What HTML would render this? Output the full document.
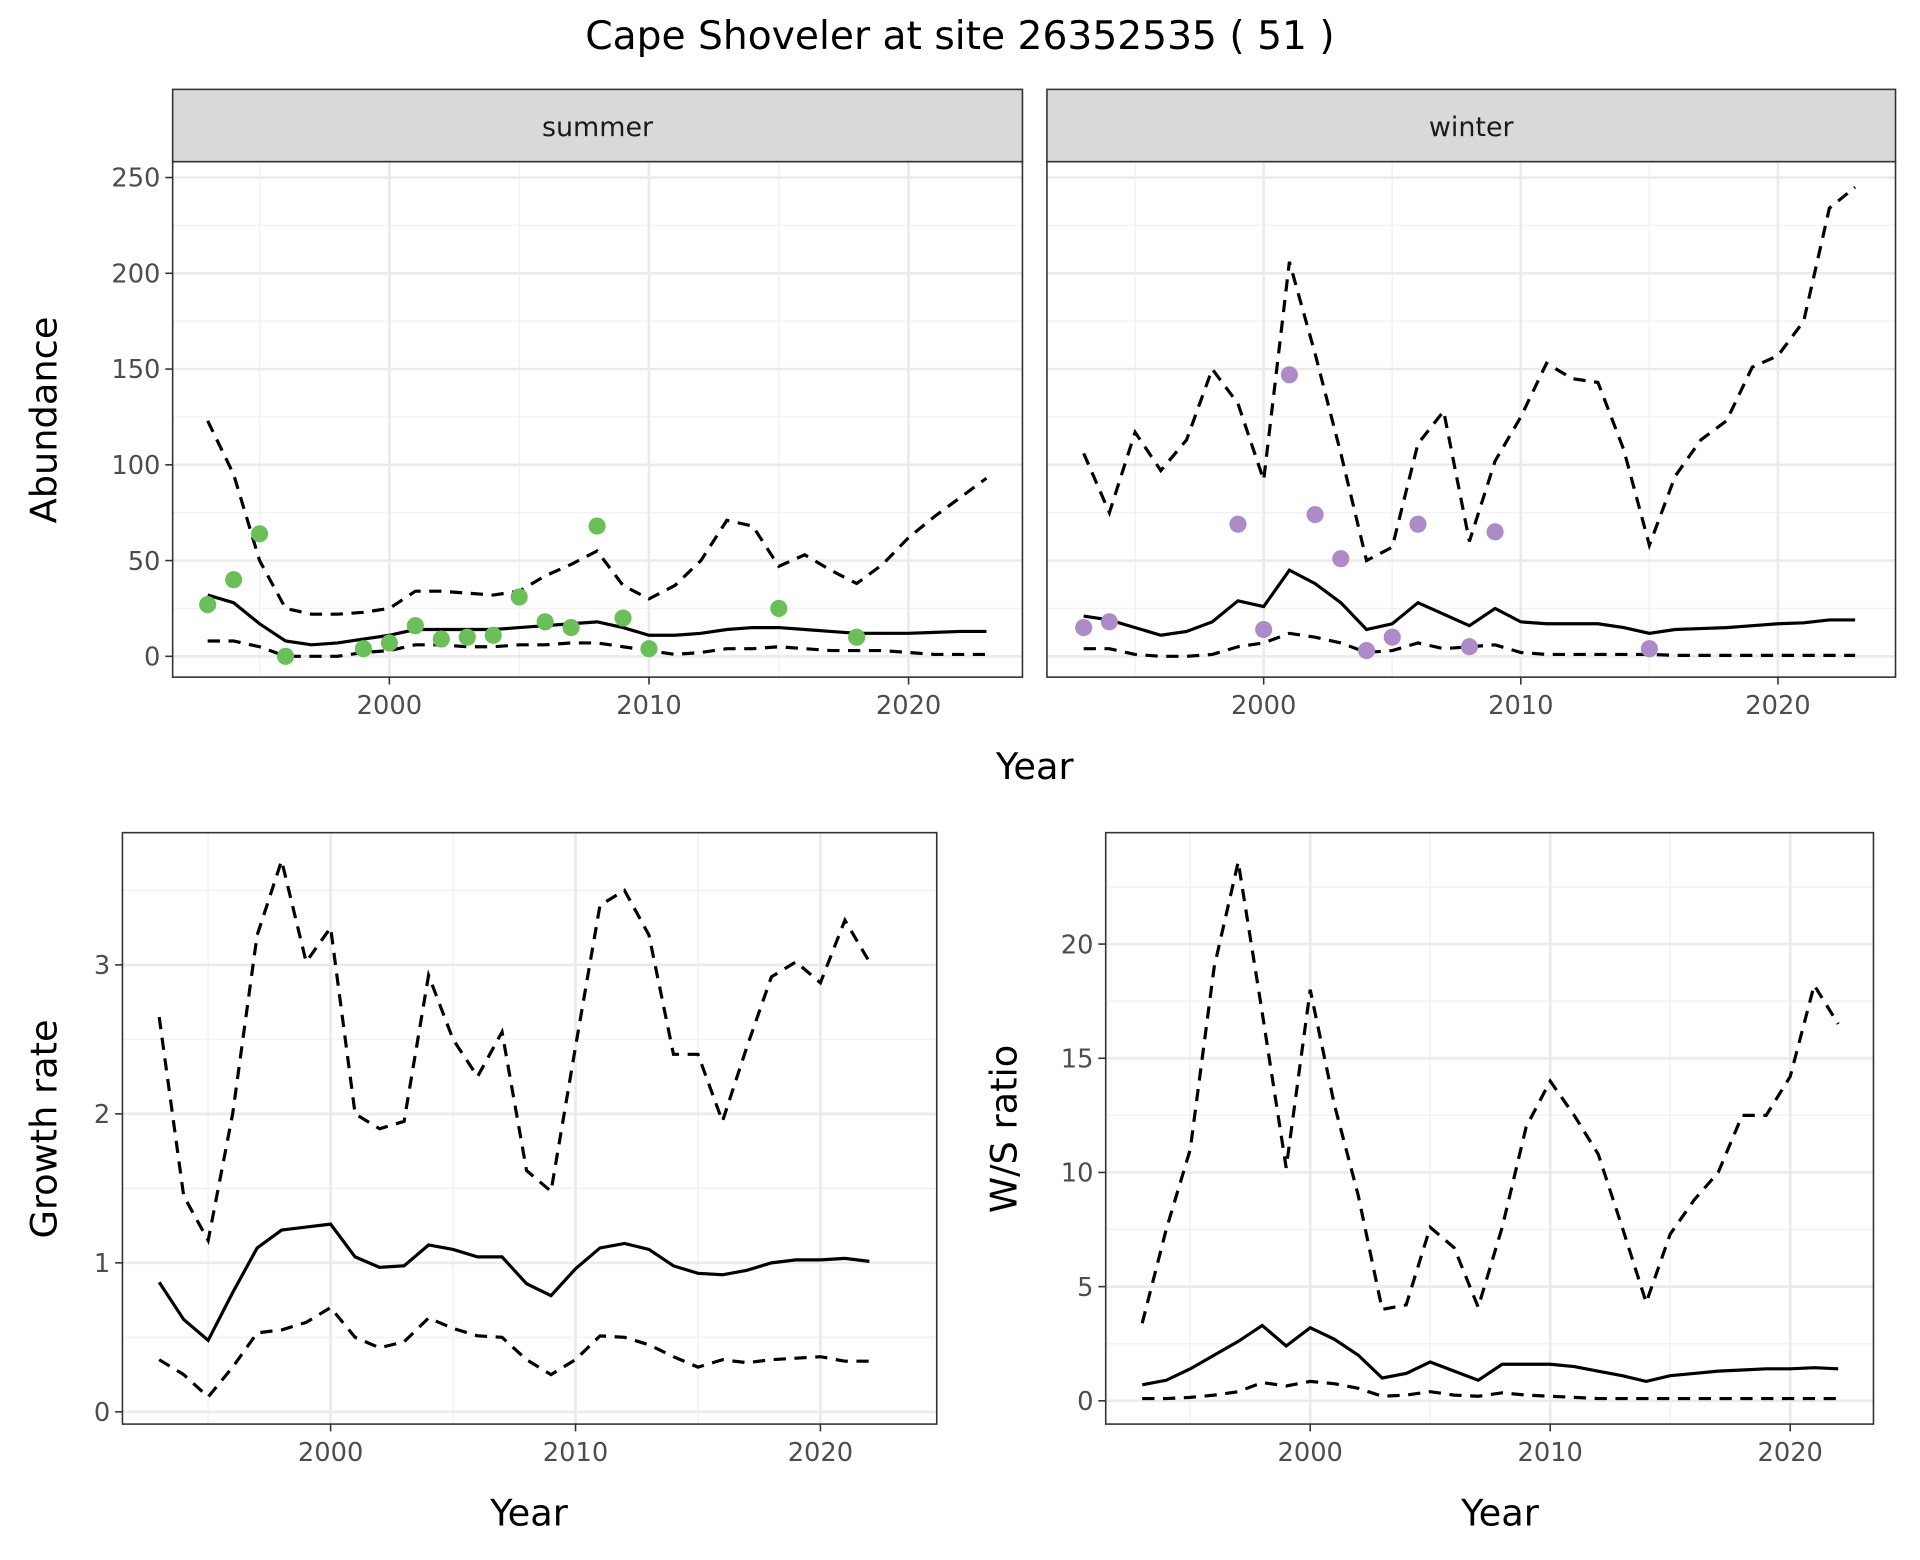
<!DOCTYPE html>
<html><head><meta charset="utf-8">
<style>
html,body{margin:0;padding:0;background:#fff;}
svg{display:block;font-family:"DejaVu Sans","Liberation Sans",sans-serif;}
</style></head>
<body>
<svg id="chart" width="1920" height="1560" viewBox="0 0 1568 1274" xmlns="http://www.w3.org/2000/svg">
<text x="784" y="40" text-anchor="middle" font-size="32" fill="#000">Cape Shoveler at site 26352535 ( 51 )</text>
</svg>
<script>
const years = [1993,1994,1995,1996,1997,1998,1999,2000,2001,2002,2003,2004,2005,2006,2007,2008,2009,2010,2011,2012,2013,2014,2015,2016,2017,2018,2019,2020,2021,2022,2023];
const summerPtYears = [1993,1994,1995,1996,1999,2000,2001,2002,2003,2004,2005,2006,2007,2008,2009,2010,2015,2018];
const summerPtVals = [27,40,64,0,4,7,16,9,10,11,31,18,15,68,20,4,25,10];
const summerMean = [32,28,17,8,6,7,9,11,14,14,14,14,15,16,17,18,15,11,11,12,14,15,15,14,13,12,12,12,12.5,13,13];
const summerUpper = [123,95,50,25,22,22,23,25,34,34,33,32,34,42,48,55,37,30,37,50,71,68,47,53,45,38,48,62,73,83,93];
const summerLower = [8,8,5,0,0,0,2,3,6,6,5,5,6,6,7,7,5,3,1,2,4,4,5,4,3,3,3,2,1,1,1];
const winterPtYears = [1993,1994,1999,2000,2001,2002,2003,2004,2005,2006,2008,2009,2015];
const winterPtVals = [15,18,69,14,147,74,51,3,10,69,5,65,4];
const winterMean = [21,19,15,11,13,18,29,26,45,38,28,14,17,28,22,16,25,18,17,17,17,15,12,14,14.5,15,16,17,17.5,19,19];
const winterUpper = [106,75,117,97,113,150,132,92,206,158,106,50,57,111,128,60,102,125,153,145,143,108,58,94,113,123,151,157,175,234,245];
const winterLower = [4,4,1,0,0,1,5,7,12,10,7,2,3,7,4,5,6,2,1,1,1,1,1,0.5,0.5,0.5,0.5,0.5,0.5,0.5,0.5];
const years2 = [1993,1994,1995,1996,1997,1998,1999,2000,2001,2002,2003,2004,2005,2006,2007,2008,2009,2010,2011,2012,2013,2014,2015,2016,2017,2018,2019,2020,2021,2022];
const growthMean = [0.87,0.62,0.48,0.8,1.1,1.22,1.24,1.26,1.04,0.97,0.98,1.12,1.09,1.04,1.04,0.86,0.78,0.96,1.1,1.13,1.09,0.98,0.93,0.92,0.95,1.0,1.02,1.02,1.03,1.01];
const growthUpper = [2.65,1.45,1.15,2.0,3.2,3.7,3.02,3.25,2.0,1.9,1.95,2.93,2.5,2.25,2.55,1.62,1.48,2.45,3.4,3.5,3.2,2.4,2.4,1.95,2.45,2.92,3.02,2.88,3.3,3.02];
const growthLower = [0.35,0.25,0.1,0.3,0.53,0.55,0.6,0.7,0.5,0.43,0.47,0.63,0.56,0.51,0.5,0.35,0.25,0.35,0.51,0.5,0.45,0.37,0.3,0.35,0.33,0.35,0.36,0.37,0.34,0.34];
const ratioMean = [0.7,0.9,1.4,2.0,2.6,3.3,2.4,3.2,2.7,2.0,1.0,1.2,1.7,1.3,0.9,1.6,1.6,1.6,1.5,1.3,1.1,0.85,1.1,1.2,1.3,1.35,1.4,1.4,1.45,1.4];
const ratioUpper = [3.4,7.5,11,19,23.6,17,10.2,18,13,9,4,4.2,7.6,6.7,4.1,7.6,12,14,12.5,10.8,7.6,4.3,7.3,8.8,10,12.5,12.5,14.2,18.2,16.5];
const ratioLower = [0.1,0.1,0.15,0.25,0.4,0.8,0.65,0.85,0.75,0.55,0.2,0.25,0.4,0.25,0.2,0.35,0.25,0.2,0.15,0.1,0.1,0.1,0.1,0.1,0.1,0.1,0.1,0.1,0.1,0.1];
const xTicks = [2000,2010,2020];
const xMinor = [1995,2005,2015];
const abundTicks = [0,50,100,150,200,250];
const abundMinor = [25,75,125,175,225];
const growthTicks = [0,1,2,3];
const growthMinor = [0.5,1.5,2.5,3.5];
const ratioTicks = [0,5,10,15,20];
const ratioMinor = [2.5,7.5,12.5,17.5,22.5];

const svg = document.getElementById('chart');
const NS = 'http://www.w3.org/2000/svg';
function el(tag, attrs, parent){
  const e = document.createElementNS(NS, tag);
  for (const k in attrs) e.setAttribute(k, attrs[k]);
  (parent||svg).appendChild(e);
  return e;
}
function lin(d0,d1,r0,r1){ return v => r0 + (v-d0)*(r1-r0)/(d1-d0); }

function panel(cfg){
  const g = el('g', {});
  
  
  const {x0,x1,y0,y1,sx,sy} = cfg;
  el('rect',{x:x0,y:y0,width:x1-x0,height:y1-y0,fill:'#fff'},g);
  cfg.yMinor.forEach(v=>{ el('line',{x1:x0,x2:x1,y1:sy(v),y2:sy(v),stroke:'#f2f2f2','stroke-width':1.2},g); });
  xMinor.forEach(v=>{ el('line',{x1:sx(v),x2:sx(v),y1:y0,y2:y1,stroke:'#f2f2f2','stroke-width':1.2},g); });
  cfg.yTicks.forEach(v=>{ el('line',{x1:x0,x2:x1,y1:sy(v),y2:sy(v),stroke:'#ebebeb','stroke-width':2.2},g); });
  xTicks.forEach(v=>{ el('line',{x1:sx(v),x2:sx(v),y1:y0,y2:y1,stroke:'#ebebeb','stroke-width':2.2},g); });
  const line = (xs,ys,dash,n) => {
    const p = el('polyline',{points:xs.map((x,i)=>sx(x)+','+sy(ys[i])).join(' '),fill:'none',stroke:'#000','stroke-width':2.6,'stroke-dasharray':dash?'10 7':'none'},g);
    
    
  };
  line(cfg.xs,cfg.upper,true,cfg.name+'-upper-line');
  line(cfg.xs,cfg.lower,true,cfg.name+'-lower-line');
  line(cfg.xs,cfg.mean,false,cfg.name+'-mean-line');
  if (cfg.ptx){
    cfg.ptx.forEach((x,i)=>{
      const c = el('circle',{cx:sx(x),cy:sy(cfg.pty[i]),r:7,fill:cfg.ptColor},g);
      
      
    });
  }
  el('rect',{x:x0,y:y0,width:x1-x0,height:y1-y0,fill:'none',stroke:'#333','stroke-width':1.3},g);
  if (cfg.yLabels){
    cfg.yTicks.forEach(v=>{
      el('line',{x1:x0-6,x2:x0,y1:sy(v),y2:sy(v),stroke:'#333','stroke-width':1.3},g);
      const t = el('text',{x:x0-10,y:sy(v)+7.5,'text-anchor':'end','font-size':21,fill:'#4d4d4d'},g);
      t.textContent = v;
    });
  }
  xTicks.forEach(v=>{
    el('line',{x1:sx(v),x2:sx(v),y1:y1,y2:y1+6,stroke:'#333','stroke-width':1.3},g);
    const t = el('text',{x:sx(v),y:y1+30,'text-anchor':'middle','font-size':21,fill:'#4d4d4d'},g);
    t.textContent = v;
  });
  if (cfg.strip){
    el('rect',{x:x0,y:73,width:x1-x0,height:y0-73,fill:'#d9d9d9',stroke:'#333','stroke-width':1.3},g);
    const t = el('text',{x:(x0+x1)/2,y:111,'text-anchor':'middle','font-size':22,fill:'#1a1a1a'},g);
    t.textContent = cfg.strip;
  }
}

panel({name:'summer-panel',x0:141,x1:835,y0:132,y1:553,sx:lin(2000,2010,318,530),sy:lin(0,250,536,145),
  yTicks:abundTicks,yMinor:abundMinor,yLabels:true,xs:years,mean:summerMean,upper:summerUpper,lower:summerLower,
  ptx:summerPtYears,pty:summerPtVals,ptColor:'#6abf59',strip:'summer'});
panel({name:'winter-panel',x0:855,x1:1548,y0:132,y1:553,sx:lin(2000,2010,1032,1242),sy:lin(0,250,536,145),
  yTicks:abundTicks,yMinor:abundMinor,yLabels:false,xs:years,mean:winterMean,upper:winterUpper,lower:winterLower,
  ptx:winterPtYears,pty:winterPtVals,ptColor:'#ad8bc9',strip:'winter'});
panel({name:'growth-panel',x0:100,x1:765,y0:680,y1:1163,sx:lin(2000,2010,270,470),sy:lin(0,3,1153,788),
  yTicks:growthTicks,yMinor:growthMinor,yLabels:true,xs:years2,mean:growthMean,upper:growthUpper,lower:growthLower});
panel({name:'ratio-panel',x0:903,x1:1530,y0:680,y1:1163,sx:lin(2000,2010,1070,1266),sy:lin(0,20,1144,771),
  yTicks:ratioTicks,yMinor:ratioMinor,yLabels:true,xs:years2,mean:ratioMean,upper:ratioUpper,lower:ratioLower});

function label(txt,x,y,rot,name){
  const t = el('text',{x:x,y:y,'text-anchor':'middle','font-size':30,fill:'#000'});
  if (rot) t.setAttribute('transform','rotate(-90 '+x+' '+y+')');
  
  
  t.textContent = txt;
}
label('Year',845,636,false,'top-x-axis-title');
label('Abundance',46,343,true,'abundance-y-axis-title');
label('Year',432,1246,false,'growth-x-axis-title');
label('Growth rate',46,922,true,'growth-y-axis-title');
label('Year',1225,1246,false,'ratio-x-axis-title');
label('W/S ratio',830,922,true,'ratio-y-axis-title');
</script>
</body></html>
